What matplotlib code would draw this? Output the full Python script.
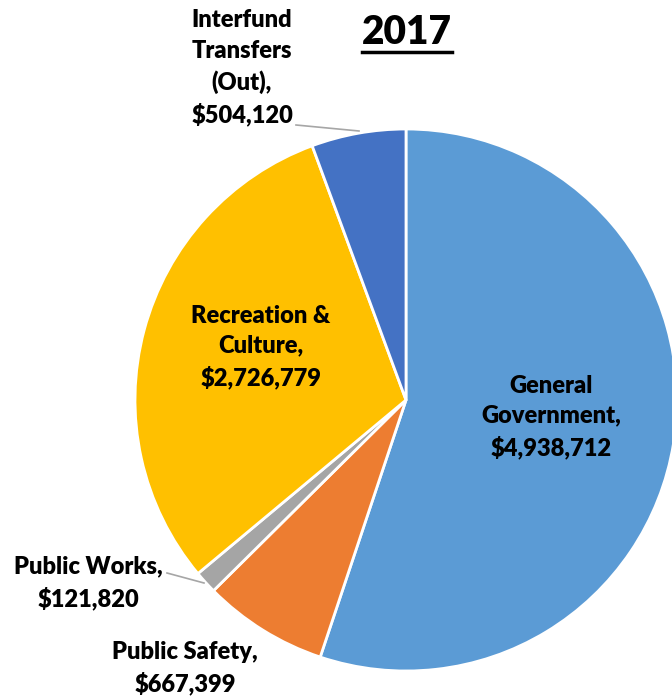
import matplotlib.pyplot as plt

categories = ['General Government', 'Public Safety', 'Public Works',
              'Recreation & Culture', 'Interfund Transfers (Out)']
values = [4938712, 667399, 121820, 2726779, 504120]
colors = ['#5B9BD5', '#ED7D31', '#A5A5A5', '#FFC000', '#4472C4']

label_text = ['General\nGovernment,\n$4,938,712',
              'Public Safety,\n$667,399',
              'Public Works,\n$121,820',
              'Recreation &\nCulture,\n$2,726,779',
              'Interfund\nTransfers\n(Out),\n$504,120']
# label centres in pixels (x, y from top)
label_px = [(551, 417), (185, 668), (88, 583), (261, 347), (242, 68)]

W, H = 672, 700
fig = plt.figure(figsize=(W / 100, H / 100), dpi=100)

def fx(x):
    return x / W

def fy(y):
    return 1 - y / H

cx, cy, r = 406, 400, 271
ax = fig.add_axes([fx(cx - r), fy(cy + r), 2 * r / W, 2 * r / H])
ax.pie(values, colors=colors, startangle=90, counterclock=False, radius=1,
       wedgeprops={'edgecolor': 'white', 'linewidth': 2})
ax.set_xlim(-1, 1)
ax.set_ylim(-1, 1)
ax.set_aspect('equal')
ax.axis('off')

font = 'Lato'
for txt, (x, y) in zip(label_text, label_px):
    fig.text(fx(x), fy(y), txt, ha='center', va='center', fontsize=17,
             fontweight='heavy', family=font, linespacing=1.45, color='black')

# leader lines
fig.add_artist(plt.Line2D([fx(296), fx(359)], [fy(125), fy(131)],
                          color='#A6A6A6', lw=1.2))
fig.add_artist(plt.Line2D([fx(167), fx(204)], [fy(573), fy(583)],
                          color='#A6A6A6', lw=1.2))

# title
fig.text(fx(407), fy(33), '2017', ha='center', va='center', fontsize=28,
         fontweight='heavy', family=font)
fig.add_artist(plt.Line2D([fx(362), fx(452)], [fy(52), fy(52)],
                          color='black', lw=2.5))

fig.savefig('out.png', dpi=100)
